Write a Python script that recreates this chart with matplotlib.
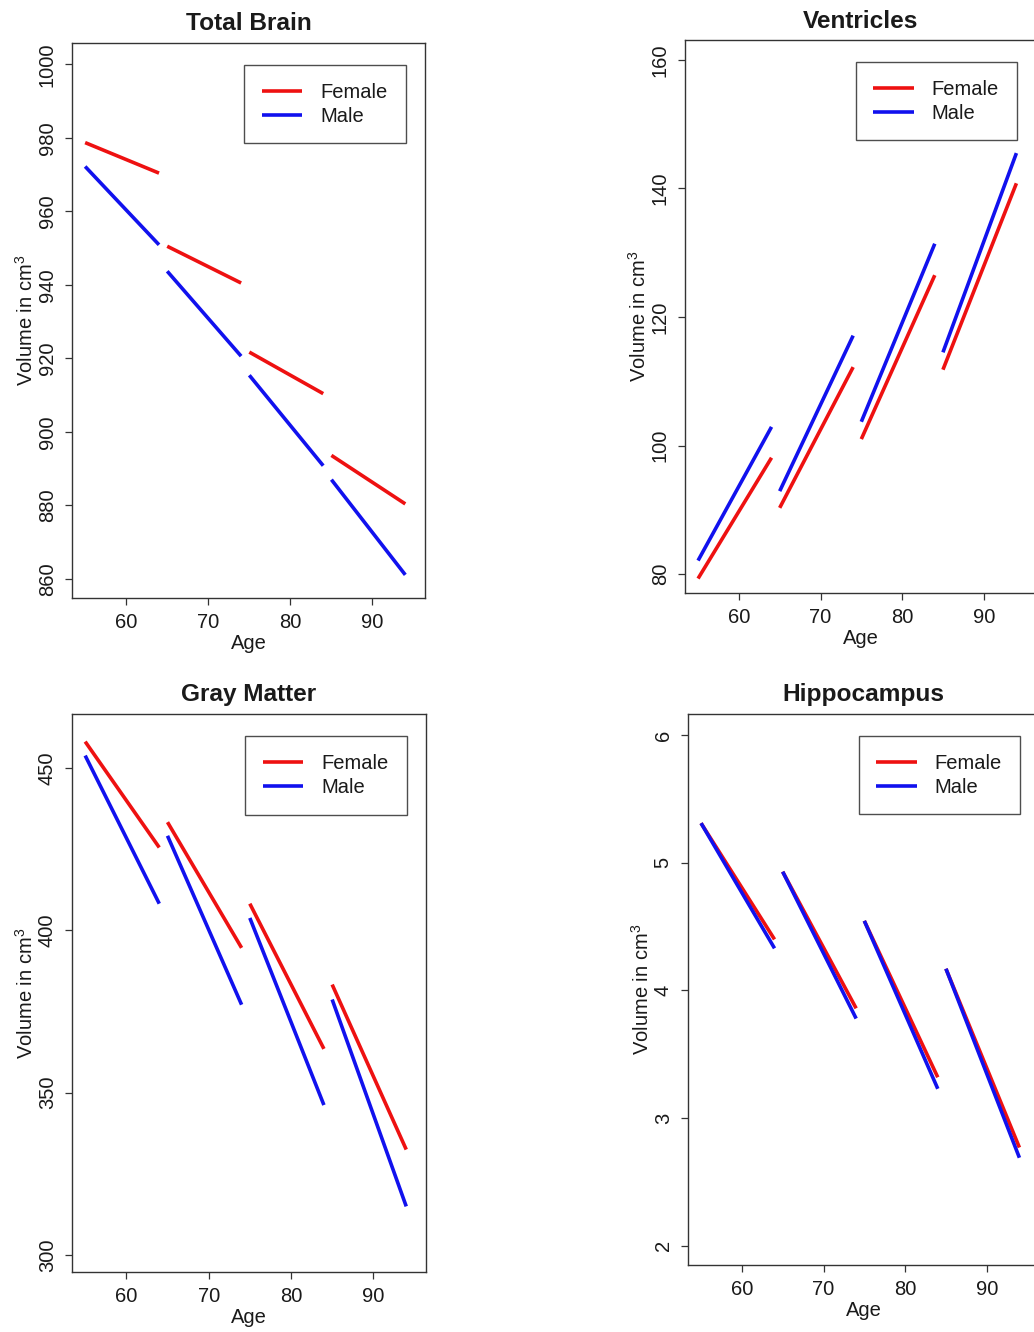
import matplotlib
matplotlib.use("Agg")
import matplotlib.pyplot as plt

# ─── DATA ─────────────────────────────────────────────────────
seg_start = [55, 65, 75, 85]
seg_end = [64, 74, 84, 94]

brain_f_start = [978.7, 950.5, 921.7, 893.6]
brain_f_end = [970.4, 940.5, 910.4, 880.4]
brain_m_start = [972.2, 943.7, 915.4, 887.0]
brain_m_end = [950.9, 920.6, 890.8, 861.1]

vent_f_start = [79.3, 90.3, 101.0, 111.8]
vent_f_end = [98.1, 112.2, 126.5, 140.8]
vent_m_start = [82.1, 92.9, 103.7, 114.5]
vent_m_end = [102.9, 117.1, 131.4, 145.5]

gray_f_start = [458.1, 433.3, 408.2, 383.3]
gray_f_end = [425.5, 394.6, 363.5, 332.5]
gray_m_start = [453.8, 429.1, 403.8, 378.7]
gray_m_end = [408.2, 377.1, 346.2, 315.0]

hippo_f_start = [5.31, 4.93, 4.545, 4.17]
hippo_f_end = [4.40, 3.86, 3.32, 2.77]
hippo_m_start = [5.31, 4.93, 4.545, 4.17]
hippo_m_end = [4.33, 3.78, 3.23, 2.69]

x_ticks = [60, 70, 80, 90]
brain_ticks = [860, 880, 900, 920, 940, 960, 980, 1000]
vent_ticks = [80, 100, 120, 140, 160]
gray_ticks = [300, 350, 400, 450]
hippo_ticks = [2, 3, 4, 5, 6]

# ─── STYLE ────────────────────────────────────────────────────
W, H = 1034, 1332
TXT = "#1a1a1a"
RED = "#ee1111"
BLUE = "#1111ee"
FS = 14.5

plt.rcParams["font.family"] = ["Liberation Sans", "DejaVu Sans"]
plt.rcParams["mathtext.fontset"] = "custom"
plt.rcParams["mathtext.rm"] = "Liberation Sans"


def px_box(l, t, r, b):
    return [l / W, 1 - b / H, (r - l) / W, (b - t) / H]


def draw_panel(ax, title, f_start, f_end, m_start, m_end, yticks, ylim):
    for i in range(len(seg_start)):
        xs = [seg_start[i], seg_end[i]]
        ax.plot(xs, [f_start[i], f_end[i]], color=RED, lw=2.6,
                solid_capstyle="butt", label="Female" if i == 0 else None)
        ax.plot(xs, [m_start[i], m_end[i]], color=BLUE, lw=2.6,
                solid_capstyle="butt", label="Male" if i == 0 else None)
    ax.set_xlim(53.4, 96.4)
    ax.set_ylim(*ylim)
    ax.set_xticks(x_ticks)
    ax.set_yticks(yticks)
    ax.tick_params(axis="both", direction="out", length=5, width=0.9,
                   color="#333333", labelcolor=TXT, labelsize=FS, pad=6)
    ax.tick_params(axis="y", labelrotation=90)
    for lab in ax.get_yticklabels():
        lab.set_va("center")
    for sp in ax.spines.values():
        sp.set_color("#333333")
        sp.set_linewidth(1.0)
    ax.set_title(title, fontsize=17.6, fontweight="bold", color=TXT, pad=9)
    ax.set_xlabel("Age", fontsize=FS, color=TXT, labelpad=1.5)
    ax.set_ylabel(r"Volume in cm$^3$", fontsize=FS, color=TXT, labelpad=1)
    leg = ax.legend(loc="upper right", bbox_to_anchor=(0.945, 0.96),
                    borderaxespad=0, fontsize=FS, frameon=True,
                    fancybox=False, edgecolor="#222222",
                    handlelength=2.0, handletextpad=0.9,
                    labelspacing=0.24, borderpad=0.88)
    leg.get_frame().set_linewidth(1.0)
    for t in leg.get_texts():
        t.set_color(TXT)


fig = plt.figure(figsize=(W / 100, H / 100), dpi=100)

ax1 = fig.add_axes(px_box(72, 43, 425, 598))
draw_panel(ax1, "Total Brain", brain_f_start, brain_f_end,
           brain_m_start, brain_m_end, brain_ticks, (854.8, 1005.8))

ax2 = fig.add_axes(px_box(685, 40, 1036, 593))
draw_panel(ax2, "Ventricles", vent_f_start, vent_f_end,
           vent_m_start, vent_m_end, vent_ticks, (77.05, 163.1))

ax3 = fig.add_axes(px_box(72, 714, 426, 1272))
draw_panel(ax3, "Gray Matter", gray_f_start, gray_f_end,
           gray_m_start, gray_m_end, gray_ticks, (294.8, 466.6))

ax4 = fig.add_axes(px_box(688, 714, 1039, 1265))
draw_panel(ax4, "Hippocampus", hippo_f_start, hippo_f_end,
           hippo_m_start, hippo_m_end, hippo_ticks, (1.85, 6.165))

fig.savefig("out.png", dpi=100)
